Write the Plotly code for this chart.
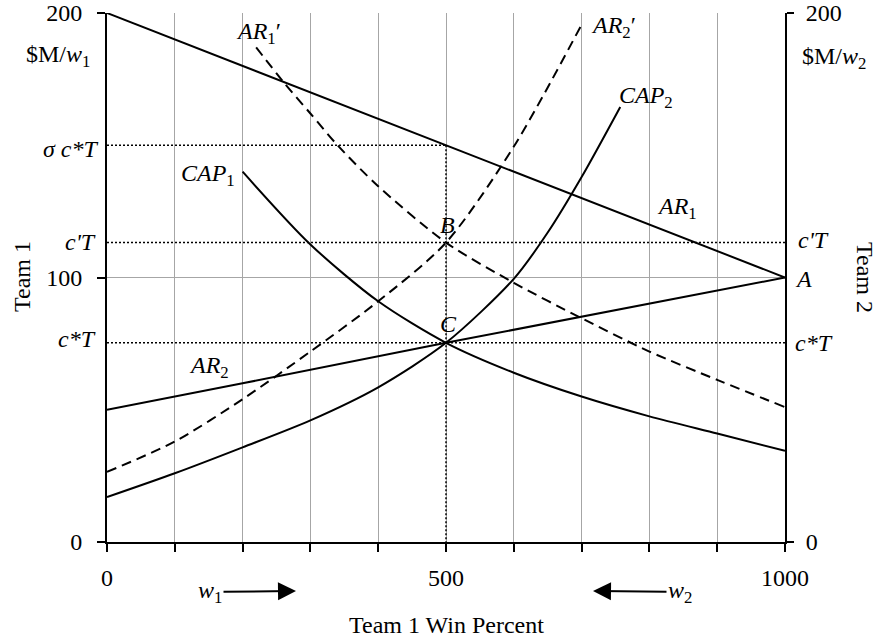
import plotly.graph_objects as go

# ---------------- data ----------------
x_ar1 = [0, 500, 1000]
ar1 = [200, 150, 100]

x_ar2 = [0, 200, 500, 800, 1000]
ar2 = [50, 60, 75.3, 90, 100]

x_cap1 = [200, 300, 400, 500, 600, 700, 800, 900, 1000]
cap1 = [140, 112.5, 91, 75.3, 64, 55, 47.5, 41, 34.5]

x_cap2 = [0, 100, 200, 300, 400, 500, 600, 650, 700, 757]
cap2 = [17, 26, 35.8, 46, 58.5, 75.3, 99.5, 117, 138, 164.5]

x_ar1p = [220, 260, 300, 340, 400, 500, 600, 700, 800, 900, 1000]
ar1p = [187, 174, 162, 150, 134.5, 113.2, 98, 84.6, 72, 61.3, 51]

x_ar2p = [0, 100, 200, 300, 400, 500, 600, 700]
ar2p = [26.5, 38, 54, 72, 91, 113.2, 149.5, 195.6]

w_eq = 500          # equilibrium win percent
sigma_cT = 150      # sigma c*T level
c_prime_T = 113.2   # c'T level
c_star_T = 75.3     # c*T level
x_min, x_max = 0, 1000
y_ticks_left = [0, 100, 200]
y_ticks_right = [0, 200]
x_label_ticks = [0, 500, 1000]
x_minor_step = 100

FONT = "Liberation Serif"
FS = 24

fig = go.Figure()

dot = dict(color="black", width=1.5, dash="2px,2px")
# dotted reference lines
fig.add_trace(go.Scatter(x=[x_min, w_eq], y=[sigma_cT, sigma_cT], mode="lines", line=dot, hoverinfo="skip"))
fig.add_trace(go.Scatter(x=[w_eq, w_eq], y=[sigma_cT, 0], mode="lines", line=dot, hoverinfo="skip"))
fig.add_trace(go.Scatter(x=[x_min, x_max], y=[c_prime_T, c_prime_T], mode="lines", line=dot, hoverinfo="skip"))
fig.add_trace(go.Scatter(x=[x_min, x_max], y=[c_star_T, c_star_T], mode="lines", line=dot, hoverinfo="skip"))

solid = dict(color="black", width=2)
dashed = dict(color="black", width=2, dash="10px,6px")
fig.add_trace(go.Scatter(x=x_ar1, y=ar1, mode="lines", line=solid, name="AR1"))
fig.add_trace(go.Scatter(x=x_ar2, y=ar2, mode="lines", line=solid, name="AR2"))
fig.add_trace(go.Scatter(x=x_cap1, y=cap1, mode="lines", line=dict(solid, shape="spline", smoothing=0.8), name="CAP1"))
fig.add_trace(go.Scatter(x=x_cap2, y=cap2, mode="lines", line=dict(solid, shape="spline", smoothing=0.8), name="CAP2"))
fig.add_trace(go.Scatter(x=x_ar1p, y=ar1p, mode="lines", line=dict(dashed, shape="spline", smoothing=0.8), name="AR1'"))
fig.add_trace(go.Scatter(x=x_ar2p, y=ar2p, mode="lines", line=dict(dashed, shape="spline", smoothing=0.8), name="AR2'"))
# invisible trace to activate the right axis
fig.add_trace(go.Scatter(x=[x_min], y=[0], yaxis="y2", mode="lines", line=dict(width=0), hoverinfo="skip", showlegend=False))

L, R, T, B = 107, 93, 13, 101
W, H = 878, 643
PW, PH = W - L - R, H - T - B


def px(xp, yp):
    return (xp - L) / PW, (H - B - yp) / PH


anns = []


def ann(text, xp, yp, xanchor="center", yanchor="middle", **kw):
    x, y = px(xp, yp)
    anns.append(dict(text=text, x=x, y=y, xref="paper", yref="paper", showarrow=False,
                     xanchor=xanchor, yanchor=yanchor,
                     font=dict(family=FONT, size=FS, color="black"), **kw))


# left side labels
ann("$M/<i>w</i><sub>1</sub>", 92, 56, xanchor="right")
ann("<i>σ c*T</i>", 100, 149, xanchor="right")
ann("<i>c'T</i>", 98, 242, xanchor="right")
ann("<i>c*T</i>", 98, 339, xanchor="right")
ann("Team 1", 22, 277, textangle=-90)
# right side labels
ann("$M/<i>w</i><sub>2</sub>", 800, 58, xanchor="left")
ann("<i>c'T</i>", 796, 240, xanchor="left")
ann("<i>A</i>", 793, 279, xanchor="left")
ann("<i>c*T</i>", 793, 343, xanchor="left")
ann("Team 2", 865, 277, textangle=90)
# curve labels
ann("<i>AR</i><sub>1</sub>′", 258, 33)
ann("<i>AR</i><sub>2</sub>′", 613, 27)
ann("<i>CAP</i><sub>2</sub>", 646, 97)
ann("<i>CAP</i><sub>1</sub>", 208, 175)
ann("<i>AR</i><sub>1</sub>", 677, 208)
ann("<i>AR</i><sub>2</sub>", 209, 367)
ann("<i>B</i>", 447, 225)
ann("<i>C</i>", 448, 324)
ann("Team 1 Win Percent", 446, 625)

# arrows with w1 / w2
hx, hy = px(296, 591)
anns.append(dict(text="<i>w</i><sub>1</sub>", x=hx, y=hy, xref="paper", yref="paper",
                 ax=-86, ay=1, showarrow=True, arrowhead=2, arrowsize=1.8, arrowwidth=2,
                 arrowcolor="black", font=dict(family=FONT, size=FS, color="black")))
hx, hy = px(593, 591)
anns.append(dict(text="<i>w</i><sub>2</sub>", x=hx, y=hy, xref="paper", yref="paper",
                 ax=87, ay=1, showarrow=True, arrowhead=2, arrowsize=1.8, arrowwidth=2,
                 arrowcolor="black", font=dict(family=FONT, size=FS, color="black")))

grid = "#a6a6a6"
fig.update_layout(
    width=W, height=H, margin=dict(l=L, r=R, t=T, b=B, autoexpand=False),
    plot_bgcolor="white", paper_bgcolor="white", showlegend=False,
    font=dict(family=FONT, size=FS, color="black"),
    annotations=anns,
    xaxis=dict(range=[x_min, x_max], tickvals=x_label_ticks,
               ticks="outside", ticklen=8, tickwidth=2, tickcolor="black",
               minor=dict(dtick=x_minor_step, ticks="outside", ticklen=8, tickwidth=2,
                          tickcolor="black", showgrid=True, gridcolor=grid, gridwidth=1),
               showline=True, linecolor="black", linewidth=2, automargin=False,
               showgrid=True, gridcolor=grid, gridwidth=1, zeroline=False,
               ticklabelstandoff=5, tickfont=dict(family=FONT, size=FS)),
    yaxis=dict(range=[0, 200], tickvals=y_ticks_left, ticks="outside", ticklen=8, tickwidth=2,
               tickcolor="black", showline=True, linecolor="black", linewidth=2,
               showgrid=True, gridcolor=grid, gridwidth=1, zeroline=False, automargin=False,
               ticklabelstandoff=10, tickfont=dict(family=FONT, size=FS)),
    yaxis2=dict(range=[0, 200], tickvals=y_ticks_right, overlaying="y", side="right",
                ticks="outside", ticklen=7, tickwidth=2, tickcolor="black",
                showline=True, linecolor="black", linewidth=2, showgrid=False,
                zeroline=False, automargin=False, ticklabelstandoff=7,
                tickfont=dict(family=FONT, size=FS)),
)

fig.write_html("out.html", config={"displayModeBar": False},
               post_script="document.body.style.margin='0';")
